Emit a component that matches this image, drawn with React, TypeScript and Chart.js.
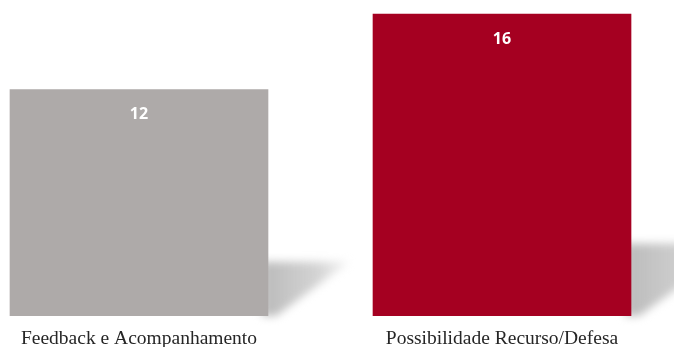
import React, { useEffect, useRef } from "react";
import { Chart, registerables } from "chart.js";

Chart.register(...registerables);

const categories: string[] = ["Feedback e Acompanhamento", "Possibilidade Recurso/Defesa"];
const values: number[] = [12, 16];
const barColors: string[] = ["#AEAAA9", "#A50021"];

const shadowPlugin = {
  id: "barShadow",
  beforeDatasetsDraw(chart: any) {
    const ctx = chart.ctx;
    const meta = chart.getDatasetMeta(0);
    meta.data.forEach((bar: any) => {
      const right = bar.x + bar.width / 2;
      const bottom = bar.base;
      const h = bar.base - bar.y;
      const topS = bottom - h * 0.24;
      const farX = right + h * 0.36;
      ctx.save();
      ctx.filter = "blur(4px)";
      const g = ctx.createLinearGradient(right, 0, farX, 0);
      g.addColorStop(0, "rgba(185,185,185,0.95)");
      g.addColorStop(0.6, "rgba(200,200,200,0.8)");
      g.addColorStop(1, "rgba(215,215,215,0.3)");
      ctx.fillStyle = g;
      ctx.beginPath();
      ctx.moveTo(right - 6, bottom);
      ctx.lineTo(right - 6, topS);
      ctx.lineTo(farX, topS);
      ctx.lineTo(right + 8, bottom);
      ctx.closePath();
      ctx.fill();
      ctx.restore();
    });
  },
  afterDatasetsDraw(chart: any) {
    const ctx = chart.ctx;
    const meta = chart.getDatasetMeta(0);
    ctx.save();
    ctx.fillStyle = "#ffffff";
    ctx.font = "bold 16px 'Open Sans'";
    ctx.textAlign = "center";
    ctx.textBaseline = "middle";
    meta.data.forEach((bar: any, i: number) => {
      ctx.fillText(String(values[i]), bar.x, bar.y + 25);
    });
    ctx.restore();
  },
};

export default function App() {
  const ref = useRef<HTMLCanvasElement | null>(null);
  useEffect(() => {
    document.body.style.margin = "0";
    if (!ref.current) return;
    const chart = new Chart(ref.current, {
      type: "bar",
      data: {
        datasets: [
          {
            data: values.map((v, i) => ({ x: i, y: v })),
            backgroundColor: barColors,
            barThickness: 258,
          },
        ],
      },
      options: {
        animation: false,
        responsive: false,
        layout: { padding: 0 },
        plugins: { legend: { display: false }, tooltip: { enabled: false } },
        scales: {
          x: {
            type: "linear",
            offset: false,
            min: -0.3829,
            max: 1.4738,
            grid: { display: false, drawTicks: false, offset: false },
            border: { display: false },
            afterBuildTicks: (axis: any) => {
              axis.ticks = categories.map((_, i) => ({ value: i }));
            },
            afterFit: (scale: any) => {
              scale.height = 31;
            },
            ticks: {
              padding: 11,
              autoSkip: false,
              maxRotation: 0,
              color: "#262626",
              font: { family: "'Liberation Serif'", size: 19.5 },
              callback: (v: any) => categories[v as number] ?? "",
            },
          },
          y: {
            display: false,
            min: 0,
            max: 16.74,
          },
        },
      },
      plugins: [shadowPlugin],
    });
    return () => chart.destroy();
  }, []);
  return (
    <div style={{ width: 674, height: 347 }}>
      <canvas ref={ref} width={674} height={347} />
    </div>
  );
}
